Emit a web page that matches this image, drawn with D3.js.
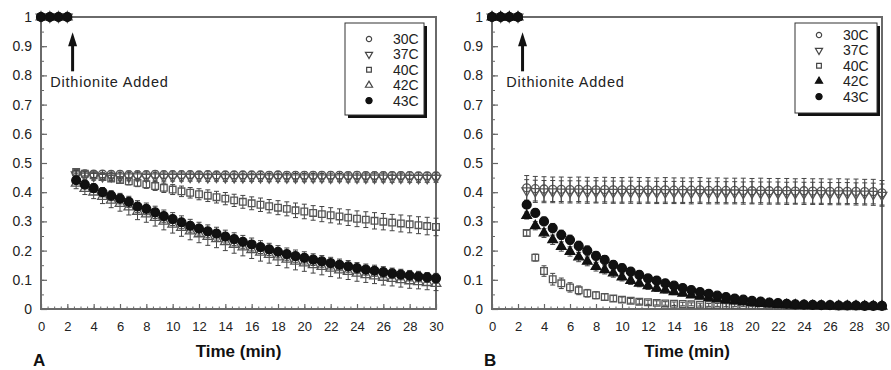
<!DOCTYPE html>
<html>
<head>
<meta charset="utf-8">
<script src="https://cdn.jsdelivr.net/npm/d3@7"></script>
<style>
  body { margin: 0; background: #fff; }
  svg { display: block; font-family: "Liberation Sans", Arial, sans-serif; }
</style>
</head>
<body>
<div id="chart"></div>
<script>
(function() {

  var width = 891,
      height = 370

  // sampling times (min)
  var times = [0, 0.67, 1.33, 2,
    2.67, 3.33, 4, 4.67, 5.33, 6,
    6.67, 7.33, 8, 8.67, 9.33, 10,
    10.67, 11.33, 12, 12.67, 13.33, 14,
    14.67, 15.33, 16, 16.67, 17.33, 18,
    18.67, 19.33, 20, 20.67, 21.33, 22,
    22.67, 23.33, 24, 24.67, 25.33, 26,
    26.67, 27.33, 28, 28.67, 29.33, 30]

  var labels = ["30C", "37C", "40C", "42C", "43C"]
  var xTicks = [0, 2, 4, 6, 8, 10, 12, 14, 16, 18, 20, 22, 24, 26, 28, 30]
  var yTicks = [0, 0.1, 0.2, 0.3, 0.4, 0.5, 0.6, 0.7, 0.8, 0.9, 1]

  // ---- panel A values ----
  var a30 = [1, 1, 1, 1,
    0.465, 0.463, 0.462, 0.462, 0.461, 0.461,
    0.460, 0.460, 0.460, 0.461, 0.460, 0.460,
    0.460, 0.460, 0.459, 0.460, 0.459, 0.459,
    0.459, 0.459, 0.459, 0.459, 0.458, 0.459,
    0.458, 0.458, 0.458, 0.458, 0.458, 0.458,
    0.458, 0.457, 0.458, 0.457, 0.457, 0.457,
    0.457, 0.457, 0.457, 0.456, 0.456, 0.456]
  var a37 = [1, 1, 1, 1,
    0.460, 0.456, 0.455, 0.454, 0.454, 0.453,
    0.453, 0.453, 0.452, 0.453, 0.452, 0.452,
    0.452, 0.452, 0.452, 0.451, 0.452, 0.451,
    0.451, 0.451, 0.451, 0.451, 0.450, 0.451,
    0.450, 0.450, 0.450, 0.450, 0.450, 0.449,
    0.450, 0.449, 0.449, 0.449, 0.449, 0.449,
    0.448, 0.449, 0.448, 0.448, 0.448, 0.448]
  var a40 = [1, 1, 1, 1,
    0.469, 0.463, 0.458, 0.452, 0.447, 0.442,
    0.437, 0.432, 0.427, 0.421, 0.415, 0.409,
    0.403, 0.398, 0.393, 0.388, 0.383, 0.378,
    0.372, 0.367, 0.362, 0.357, 0.352, 0.347,
    0.343, 0.338, 0.334, 0.329, 0.325, 0.321,
    0.317, 0.313, 0.309, 0.306, 0.302, 0.299,
    0.296, 0.293, 0.290, 0.287, 0.284, 0.281]
  var a42 = [1, 1, 1, 1,
    0.430, 0.412, 0.400, 0.385, 0.372, 0.361,
    0.349, 0.334, 0.325, 0.313, 0.300, 0.290,
    0.279, 0.267, 0.257, 0.248, 0.240, 0.230,
    0.221, 0.212, 0.203, 0.194, 0.186, 0.178,
    0.170, 0.163, 0.157, 0.151, 0.145, 0.139,
    0.133, 0.128, 0.122, 0.117, 0.113, 0.108,
    0.104, 0.100, 0.096, 0.093, 0.090, 0.087]
  var a43 = [1, 1, 1, 1,
    0.441, 0.426, 0.414, 0.400, 0.388, 0.378,
    0.367, 0.351, 0.343, 0.331, 0.318, 0.308,
    0.297, 0.285, 0.275, 0.266, 0.258, 0.248,
    0.239, 0.230, 0.221, 0.212, 0.204, 0.196,
    0.188, 0.181, 0.175, 0.169, 0.163, 0.157,
    0.151, 0.146, 0.140, 0.135, 0.131, 0.126,
    0.122, 0.118, 0.114, 0.111, 0.108, 0.105]

  // panel A error bars (+/-)
  var ea30 = [0, 0, 0, 0,
    0.012, 0.012, 0.012, 0.012, 0.012, 0.012,
    0.012, 0.012, 0.012, 0.012, 0.012, 0.012,
    0.012, 0.012, 0.012, 0.012, 0.012, 0.012,
    0.012, 0.012, 0.012, 0.012, 0.012, 0.012,
    0.012, 0.012, 0.012, 0.012, 0.012, 0.012,
    0.012, 0.012, 0.012, 0.012, 0.012, 0.012,
    0.012, 0.012, 0.012, 0.012, 0.012, 0.012]
  var ea37 = [0, 0, 0, 0,
    0.014, 0.014, 0.014, 0.014, 0.014, 0.014,
    0.014, 0.014, 0.014, 0.014, 0.014, 0.014,
    0.014, 0.014, 0.014, 0.014, 0.014, 0.014,
    0.014, 0.014, 0.014, 0.014, 0.014, 0.014,
    0.014, 0.014, 0.014, 0.014, 0.014, 0.014,
    0.014, 0.014, 0.014, 0.014, 0.014, 0.014,
    0.014, 0.014, 0.014, 0.014, 0.014, 0.014]
  var ea40 = [0, 0, 0, 0,
    0.006, 0.007, 0.008, 0.009, 0.010, 0.011,
    0.012, 0.013, 0.014, 0.015, 0.016, 0.017,
    0.018, 0.018, 0.019, 0.020, 0.020, 0.021,
    0.021, 0.022, 0.022, 0.023, 0.023, 0.024,
    0.024, 0.025, 0.025, 0.025, 0.026, 0.026,
    0.026, 0.027, 0.027, 0.027, 0.028, 0.028,
    0.028, 0.029, 0.029, 0.029, 0.030, 0.030]
  var ea42 = [0, 0, 0, 0,
    0.018, 0.020, 0.022, 0.024, 0.025, 0.026,
    0.027, 0.028, 0.028, 0.029, 0.029, 0.030,
    0.030, 0.030, 0.030, 0.030, 0.030, 0.030,
    0.030, 0.030, 0.030, 0.030, 0.029, 0.029,
    0.029, 0.029, 0.028, 0.028, 0.028, 0.028,
    0.027, 0.027, 0.027, 0.026, 0.026, 0.026,
    0.025, 0.025, 0.025, 0.024, 0.024, 0.024]
  var ea43 = [0, 0, 0, 0,
    0.012, 0.014, 0.015, 0.016, 0.017, 0.018,
    0.019, 0.020, 0.020, 0.021, 0.021, 0.022,
    0.022, 0.022, 0.022, 0.022, 0.022, 0.022,
    0.022, 0.022, 0.022, 0.022, 0.021, 0.021,
    0.021, 0.021, 0.021, 0.020, 0.020, 0.020,
    0.020, 0.020, 0.019, 0.019, 0.019, 0.019,
    0.018, 0.018, 0.018, 0.018, 0.017, 0.017]

  // ---- panel B values ----
  var b30 = [1, 1, 1, 1,
    0.415, 0.412, 0.411, 0.410, 0.410, 0.409,
    0.410, 0.409, 0.408, 0.409, 0.408, 0.408,
    0.409, 0.408, 0.408, 0.407, 0.408, 0.407,
    0.407, 0.407, 0.408, 0.406, 0.407, 0.406,
    0.406, 0.406, 0.405, 0.406, 0.405, 0.405,
    0.405, 0.404, 0.405, 0.404, 0.404, 0.403,
    0.404, 0.403, 0.403, 0.402, 0.402, 0.398]
  var b37 = [1, 1, 1, 1,
    0.405, 0.403, 0.402, 0.402, 0.401, 0.401,
    0.401, 0.400, 0.401, 0.400, 0.400, 0.400,
    0.400, 0.399, 0.400, 0.399, 0.399, 0.399,
    0.399, 0.398, 0.399, 0.398, 0.398, 0.398,
    0.398, 0.397, 0.398, 0.397, 0.397, 0.397,
    0.396, 0.397, 0.396, 0.396, 0.396, 0.395,
    0.395, 0.395, 0.394, 0.394, 0.393, 0.390]
  var b40 = [1, 1, 1, 1,
    0.260, 0.176, 0.130, 0.102, 0.088, 0.074,
    0.064, 0.054, 0.047, 0.041, 0.036, 0.032,
    0.028, 0.025, 0.023, 0.021, 0.019, 0.018,
    0.017, 0.016, 0.015, 0.014, 0.014, 0.013,
    0.013, 0.012, 0.012, 0.012, 0.011, 0.011,
    0.011, 0.010, 0.010, 0.010, 0.010, 0.010,
    0.009, 0.009, 0.009, 0.009, 0.009, 0.009]
  var b42 = [1, 1, 1, 1,
    0.320, 0.285, 0.260, 0.237, 0.214, 0.197,
    0.178, 0.163, 0.145, 0.134, 0.123, 0.109,
    0.097, 0.088, 0.079, 0.071, 0.065, 0.059,
    0.054, 0.048, 0.043, 0.038, 0.034, 0.030,
    0.027, 0.024, 0.021, 0.019, 0.017, 0.015,
    0.014, 0.013, 0.012, 0.011, 0.011, 0.010,
    0.010, 0.010, 0.010, 0.009, 0.009, 0.009]
  var b43 = [1, 1, 1, 1,
    0.357, 0.329, 0.300, 0.277, 0.254, 0.237,
    0.216, 0.200, 0.182, 0.168, 0.151, 0.140,
    0.128, 0.117, 0.105, 0.097, 0.088, 0.080,
    0.072, 0.065, 0.058, 0.052, 0.046, 0.041,
    0.036, 0.032, 0.028, 0.025, 0.022, 0.020,
    0.018, 0.016, 0.015, 0.014, 0.013, 0.013,
    0.012, 0.012, 0.012, 0.011, 0.011, 0.011]

  // panel B error bars (+/-)
  var eb30 = [0, 0, 0, 0,
    0.042, 0.042, 0.042, 0.042, 0.042, 0.042,
    0.042, 0.042, 0.042, 0.042, 0.042, 0.042,
    0.042, 0.042, 0.042, 0.042, 0.042, 0.042,
    0.042, 0.042, 0.042, 0.042, 0.042, 0.042,
    0.042, 0.042, 0.042, 0.042, 0.042, 0.042,
    0.042, 0.042, 0.042, 0.042, 0.042, 0.042,
    0.042, 0.042, 0.042, 0.042, 0.042, 0.042]
  var eb37 = [0, 0, 0, 0,
    0.038, 0.038, 0.038, 0.038, 0.038, 0.038,
    0.038, 0.038, 0.038, 0.038, 0.038, 0.038,
    0.038, 0.038, 0.038, 0.038, 0.038, 0.038,
    0.038, 0.038, 0.038, 0.038, 0.038, 0.038,
    0.038, 0.038, 0.038, 0.038, 0.038, 0.038,
    0.038, 0.038, 0.038, 0.038, 0.038, 0.038,
    0.038, 0.038, 0.038, 0.038, 0.038, 0.038]
  var eb40 = [0, 0, 0, 0,
    0.010, 0.012, 0.018, 0.020, 0.018, 0.016,
    0.015, 0.013, 0.012, 0.011, 0.010, 0.009,
    0.008, 0.008, 0.007, 0.007, 0.006, 0.006,
    0.006, 0.005, 0.005, 0.005, 0.005, 0.005,
    0.004, 0.004, 0.004, 0.004, 0.004, 0.004,
    0.004, 0.004, 0.004, 0.004, 0.004, 0.004,
    0.004, 0.004, 0.004, 0.004, 0.004, 0.004]
  var eb42 = [0, 0, 0, 0,
    0.012, 0.014, 0.015, 0.016, 0.016, 0.016,
    0.016, 0.015, 0.015, 0.014, 0.014, 0.013,
    0.013, 0.012, 0.012, 0.011, 0.010, 0.010,
    0.009, 0.008, 0.008, 0.007, 0.007, 0.006,
    0.006, 0.005, 0.005, 0.005, 0.004, 0.004,
    0.004, 0.004, 0.004, 0.004, 0.004, 0.004,
    0.004, 0.004, 0.004, 0.004, 0.004, 0.004]
  var eb43 = [0, 0, 0, 0,
    0.012, 0.014, 0.015, 0.016, 0.016, 0.016,
    0.016, 0.016, 0.015, 0.015, 0.014, 0.014,
    0.013, 0.013, 0.012, 0.012, 0.011, 0.010,
    0.010, 0.009, 0.008, 0.008, 0.007, 0.007,
    0.006, 0.006, 0.005, 0.005, 0.005, 0.004,
    0.004, 0.004, 0.004, 0.004, 0.004, 0.004,
    0.004, 0.004, 0.004, 0.004, 0.004, 0.004]

  var svg = d3.select("#chart")
    .append("svg")
    .attr("width", width)
    .attr("height", height)

  var shapes = [
    { type: d3.symbolCircle, rotate: 0, size: 50 },
    { type: d3.symbolTriangle, rotate: 180, size: 40 },
    { type: d3.symbolSquare, rotate: 0, size: 44 },
    { type: d3.symbolTriangle, rotate: 0, size: 40 },
    { type: d3.symbolCircle, rotate: 0, size: 62 }
  ]

  var panels = [
    { letter: "A", left: 41, right: 436, top: 17, bottom: 309,
      series: [a30, a37, a40, a42, a43], errors: [ea30, ea37, ea40, ea42, ea43],
      filled: [false, false, false, false, true],
      legend: { x: 345, y: 23, w: 79, h: 92, first: 16 },
      arrowT: 2.4, textT: 0.7 },
    { letter: "B", left: 492, right: 882, top: 17, bottom: 309,
      series: [b30, b37, b40, b42, b43], errors: [eb30, eb37, eb40, eb42, eb43],
      filled: [false, false, false, true, true],
      legend: { x: 795, y: 23, w: 82, h: 90, first: 12 },
      arrowT: 2.35, textT: 1.1 }
  ]

  panels.forEach(function(p) {
    var x = d3.scaleLinear().domain([0, 30]).range([p.left, p.right])
    var y = d3.scaleLinear().domain([0, 1]).range([p.bottom, p.top])
    var g = svg.append("g")

    // minor ticks
    g.append("g")
      .attr("transform", "translate(0," + p.bottom + ")")
      .call(d3.axisBottom(x).tickValues(d3.range(0, 30.01, 0.5)).tickSize(-2.5).tickFormat(""))
      .call(function(a) { a.select(".domain").remove() })
      .selectAll("line").attr("stroke", "#666")
    g.append("g")
      .attr("transform", "translate(" + p.left + ",0)")
      .call(d3.axisLeft(y).tickValues(d3.range(0, 1.001, 0.05)).tickSize(-3).tickFormat(""))
      .call(function(a) { a.select(".domain").remove() })
      .selectAll("line").attr("stroke", "#666")

    // major ticks + labels
    var xa = g.append("g")
      .attr("transform", "translate(0," + p.bottom + ")")
      .call(d3.axisBottom(x).tickValues(xTicks).tickSize(-5).tickPadding(13))
    xa.select(".domain").remove()
    xa.selectAll("line").attr("stroke", "#666").attr("stroke-width", 1.2)
    xa.selectAll("text").attr("font-size", 13).attr("fill", "#222")
      .attr("font-family", "Liberation Sans, Arial, sans-serif")

    var ya = g.append("g")
      .attr("transform", "translate(" + p.left + ",0)")
      .call(d3.axisLeft(y).tickValues(yTicks).tickSize(-6).tickPadding(9)
        .tickFormat(function(d) { return String(+d.toFixed(1)) }))
    ya.select(".domain").remove()
    ya.selectAll("line").attr("stroke", "#666").attr("stroke-width", 1.2)
    ya.selectAll("text").attr("font-size", 14).attr("fill", "#222")
      .attr("font-family", "Liberation Sans, Arial, sans-serif")

    // frame
    g.append("rect")
      .attr("x", p.left).attr("y", p.top)
      .attr("width", p.right - p.left).attr("height", p.bottom - p.top)
      .attr("fill", "none").attr("stroke", "#6a6a6a").attr("stroke-width", 2)

    // data
    p.series.forEach(function(vals, si) {
      var errs = p.errors[si]
      var filled = p.filled[si]
      var pts = vals.map(function(v, i) { return { t: times[i], v: v, e: errs[i] } })
      var sg = g.append("g")

      var bars = sg.selectAll(".err")
        .data(pts.filter(function(d) { return d.e > 0 }))
        .enter().append("g")
        .attr("stroke", "#444").attr("stroke-width", 1)
      bars.append("line")
        .attr("x1", function(d) { return x(d.t) })
        .attr("x2", function(d) { return x(d.t) })
        .attr("y1", function(d) { return y(d.v - d.e) })
        .attr("y2", function(d) { return y(d.v + d.e) })
      bars.append("line")
        .attr("x1", function(d) { return x(d.t) - 2.5 })
        .attr("x2", function(d) { return x(d.t) + 2.5 })
        .attr("y1", function(d) { return y(d.v - d.e) })
        .attr("y2", function(d) { return y(d.v - d.e) })
      bars.append("line")
        .attr("x1", function(d) { return x(d.t) - 2.5 })
        .attr("x2", function(d) { return x(d.t) + 2.5 })
        .attr("y1", function(d) { return y(d.v + d.e) })
        .attr("y2", function(d) { return y(d.v + d.e) })

      var sym = d3.symbol().type(shapes[si].type).size(shapes[si].size)
      sg.selectAll(".pt")
        .data(pts)
        .enter().append("path")
        .attr("d", sym)
        .attr("transform", function(d) {
          return "translate(" + x(d.t) + "," + y(d.v) + ") rotate(" + shapes[si].rotate + ")"
        })
        .attr("fill", filled ? "#111" : "none")
        .attr("stroke", filled ? "#111" : "#555")
        .attr("stroke-width", 1.3)
    })

    // Dithionite arrow
    g.append("line")
      .attr("x1", x(p.arrowT)).attr("x2", x(p.arrowT))
      .attr("y1", y(0.814)).attr("y2", y(0.905))
      .attr("stroke", "#111").attr("stroke-width", 3)
    g.append("path")
      .attr("d", "M" + x(p.arrowT) + "," + y(0.948) +
        "L" + (x(p.arrowT) - 4.5) + "," + y(0.9) +
        "L" + (x(p.arrowT) + 4.5) + "," + y(0.9) + "Z")
      .attr("fill", "#111")
    g.append("text")
      .attr("x", x(p.textT)).attr("y", y(0.759))
      .attr("font-size", 14.5).attr("letter-spacing", 0.8)
      .attr("fill", "#222")
      .text("Dithionite Added")

    // legend
    var L = p.legend
    g.append("rect")
      .attr("x", L.x + 3).attr("y", L.y + 3).attr("width", L.w).attr("height", L.h)
      .attr("fill", "#111")
    g.append("rect")
      .attr("x", L.x).attr("y", L.y).attr("width", L.w).attr("height", L.h)
      .attr("fill", "#fff").attr("stroke", "#333").attr("stroke-width", 1)
    labels.forEach(function(lab, i) {
      var ly = L.y + L.first + i * 15.4
      var sym = d3.symbol().type(shapes[i].type).size(i === 4 ? 30 : 22)
      g.append("path")
        .attr("d", sym)
        .attr("transform", "translate(" + (L.x + 24) + "," + ly + ") rotate(" + shapes[i].rotate + ")")
        .attr("fill", p.filled[i] ? "#111" : "none")
        .attr("stroke", p.filled[i] ? "#111" : "#444")
        .attr("stroke-width", 1.2)
      g.append("text")
        .attr("x", L.x + 48).attr("y", ly)
        .attr("dy", "0.35em")
        .attr("font-size", 14).attr("fill", "#222")
        .text(lab)
    })

    // axis title and panel letter
    g.append("text")
      .attr("x", (p.left + p.right) / 2).attr("y", 357)
      .attr("text-anchor", "middle")
      .attr("font-size", 17).attr("font-weight", "bold").attr("fill", "#111")
      .text("Time (min)")
    g.append("text")
      .attr("x", p.left - 8).attr("y", 366)
      .attr("font-size", 17).attr("font-weight", "bold").attr("fill", "#111")
      .text(p.letter)
  })
})()
</script>
</body>
</html>
